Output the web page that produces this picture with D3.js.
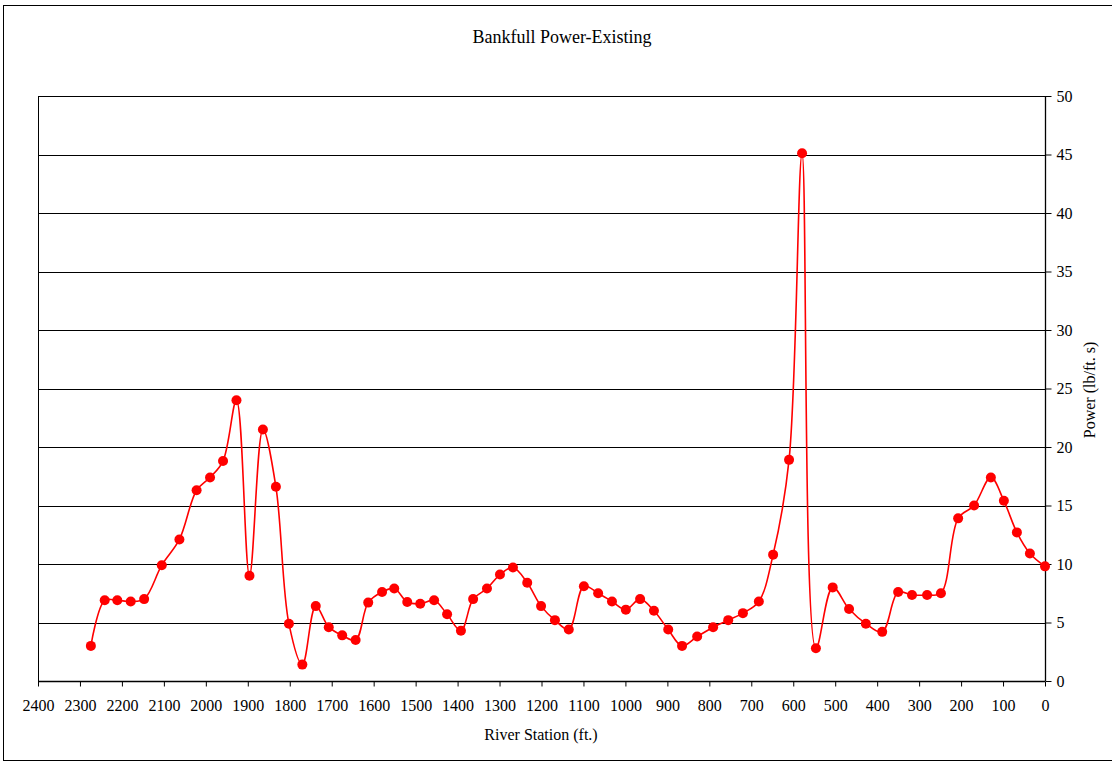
<!DOCTYPE html>
<html>
<head>
<meta charset="utf-8">
<script src="https://cdn.jsdelivr.net/npm/d3@7"></script>
<style>
  body { margin: 0; background: #fff; }
  svg text { font-family: "Liberation Serif", "Times New Roman", serif; fill: #000; }
</style>
</head>
<body>
<script>
// river station (ft.) and bankfull power (lb/ft. s)
var stations = [2274, 2241, 2211, 2179, 2147, 2105, 2063, 2022, 1990, 1959,
                1927, 1896, 1864, 1833, 1802, 1770, 1738, 1707, 1675, 1643,
                1613, 1580, 1551, 1520, 1489, 1456, 1425, 1392, 1363, 1330,
                1299, 1268, 1234, 1201, 1168, 1135, 1099, 1065, 1032, 999,
                965, 932, 898, 865, 829, 791, 755, 720, 682, 648,
                610, 579, 546, 506, 467, 427, 388, 350, 317, 281,
                248, 207, 169, 129, 98, 67, 36, 0];
var power = [3.0, 6.9, 6.9, 6.8, 7.0, 9.9, 12.1, 16.3, 17.4, 18.8,
             24.0, 9.0, 21.5, 16.6, 4.9, 1.4, 6.4, 4.6, 3.9, 3.5,
             6.7, 7.6, 7.9, 6.75, 6.6, 6.9, 5.7, 4.3, 7.0, 7.9,
             9.1, 9.7, 8.4, 6.4, 5.2, 4.4, 8.1, 7.5, 6.8, 6.1,
             7.0, 6.0, 4.4, 3.0, 3.8, 4.6, 5.2, 5.8, 6.8, 10.8,
             18.9, 45.1, 2.8, 8.0, 6.15, 4.9, 4.2, 7.6, 7.35, 7.35,
             7.5, 13.9, 15.0, 17.4, 15.4, 12.7, 10.9, 9.8];
var xTicks = d3.range(0, 2401, 100);
var yTicks = d3.range(0, 51, 5);

var w = 1112, h = 762;
var plotL = 38, plotR = 1045, plotT = 96, plotB = 681;

var svg = d3.select("body")
            .append("svg")
            .attr("width", w)
            .attr("height", h);

// outer chart border
svg.append("rect")
    .attr("x", 3.5).attr("y", 5.5)
    .attr("width", w).attr("height", 755)
    .attr("fill", "none")
    .attr("stroke", "#000")
    .attr("stroke-width", 1);

var xScale = d3.scaleLinear()
                .domain([2400, 0])
                .range([plotL, plotR]);

var yScale = d3.scaleLinear()
                .domain([0, 50])
                .range([plotB, plotT]);

// gridlines
svg.append("g")
    .selectAll("line")
    .data(yTicks)
    .enter()
    .append("line")
    .attr("x1", plotL).attr("x2", plotR)
    .attr("y1", d => Math.round(yScale(d)) + 0.5)
    .attr("y2", d => Math.round(yScale(d)) + 0.5)
    .attr("stroke", "#000")
    .attr("stroke-width", 1);

// left border of plot area
svg.append("line")
    .attr("x1", plotL + 0.5).attr("x2", plotL + 0.5)
    .attr("y1", plotT).attr("y2", plotB)
    .attr("stroke", "#000");

var xAxis = d3.axisBottom()
            .scale(xScale)
            .tickValues(xTicks)
            .tickSize(5)
            .tickPadding(13)
            .tickFormat(d3.format("d"));

var yAxis = d3.axisRight()
            .scale(yScale)
            .tickValues(yTicks)
            .tickSize(6)
            .tickPadding(5);

var gx = svg.append("g")
    .attr("transform", "translate(0," + (plotB + 0.5) + ")")
    .call(xAxis);

var gy = svg.append("g")
    .attr("transform", "translate(" + (plotR + 0.5) + ",0)")
    .call(yAxis);

[gx, gy].forEach(function(g) {
    g.select(".domain").attr("stroke", "#000").attr("stroke-width", 1.3);
    g.selectAll(".tick line").attr("stroke", "#000");
    g.selectAll("text")
        .style("font-family", "'Liberation Serif', 'Times New Roman', serif")
        .style("font-size", "16px")
        .attr("fill", "#000");
});
// no outer tick caps on the axis paths
gx.select(".domain").attr("d", "M" + plotL + ",0H" + plotR);
gy.select(".domain").attr("d", "M0," + plotT + "V" + plotB);

var pts = stations.map((s, i) => [xScale(s), yScale(power[i])]);

var line = d3.line()
            .curve(d3.curveCatmullRom.alpha(0.5));

svg.append("path")
    .attr("d", line(pts))
    .attr("fill", "none")
    .attr("stroke", "#ff0000")
    .attr("stroke-width", 1.6);

svg.append("g")
    .selectAll("circle")
    .data(pts)
    .enter()
    .append("circle")
    .attr("cx", d => d[0])
    .attr("cy", d => d[1])
    .attr("r", 5)
    .attr("fill", "#ff0000");

svg.append("text")
    .attr("x", 562).attr("y", 43)
    .attr("text-anchor", "middle")
    .style("font-size", "18px")
    .text("Bankfull Power-Existing");

svg.append("text")
    .attr("x", 541).attr("y", 740)
    .attr("text-anchor", "middle")
    .style("font-size", "16px")
    .text("River Station (ft.)");

svg.append("text")
    .attr("transform", "translate(1095,390) rotate(-90)")
    .attr("text-anchor", "middle")
    .style("font-size", "16px")
    .text("Power (lb/ft. s)");
</script>
</body>
</html>
